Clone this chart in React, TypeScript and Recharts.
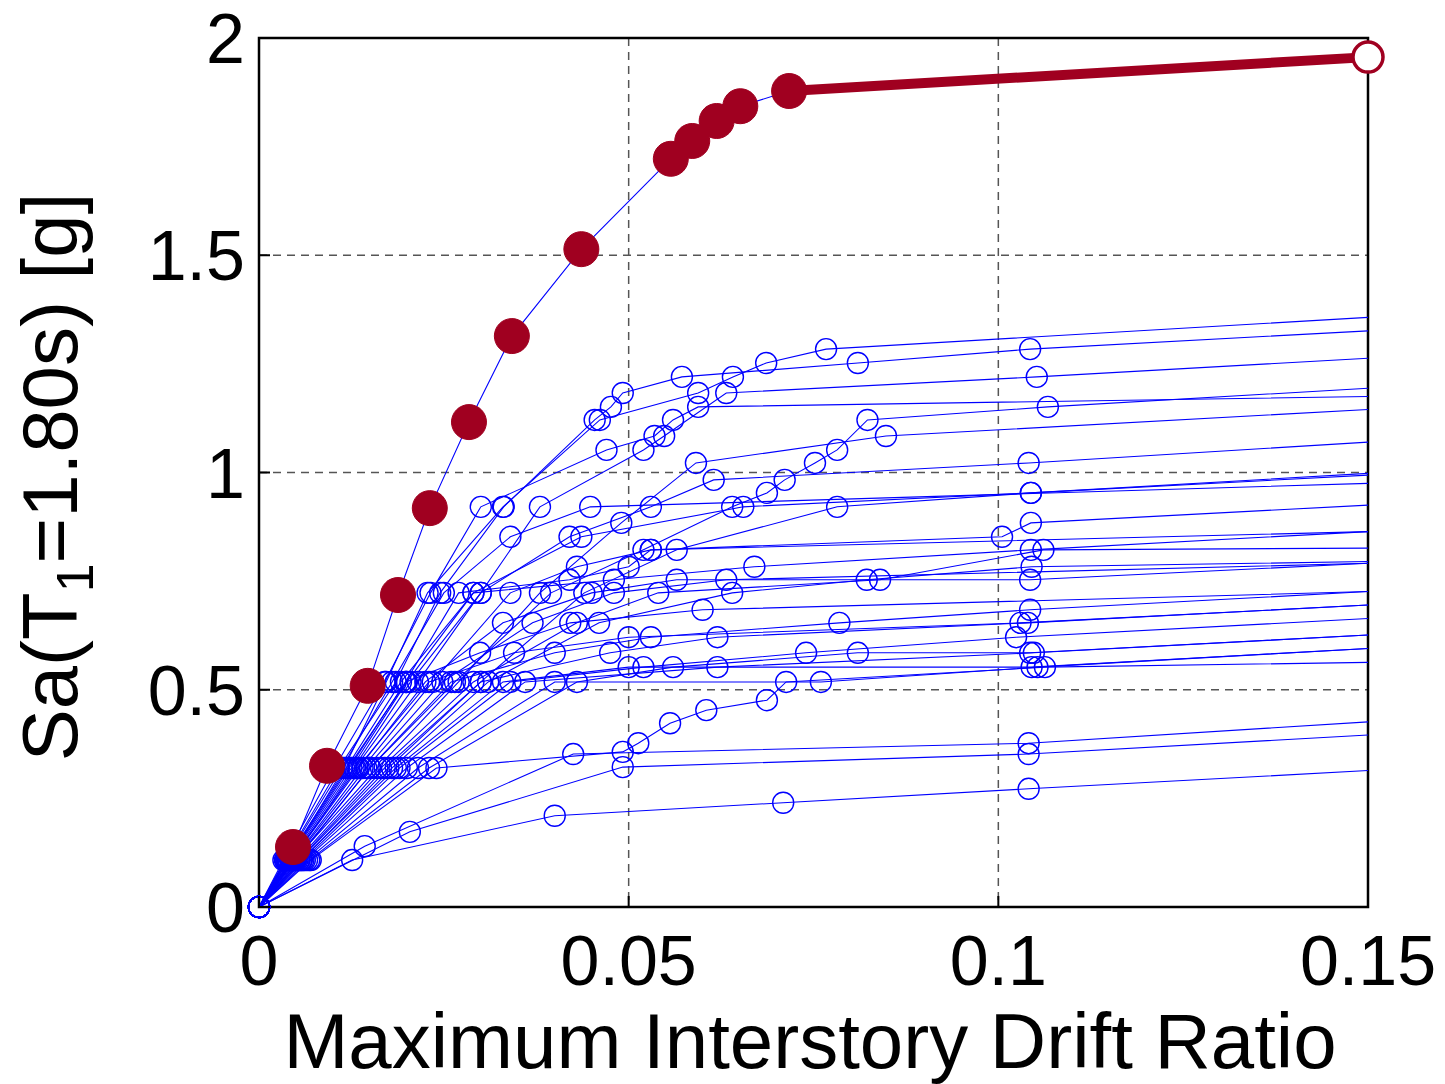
import React from 'react';
import { ScatterChart, Scatter, XAxis, YAxis, CartesianGrid, ReferenceArea, Label } from 'recharts';

const xTicks = [0, 0.05, 0.1, 0.15];
const xTickLabels = ['0', '0.05', '0.1', '0.15'];
const yTicks = [0, 0.5, 1, 1.5, 2];
const yTickLabels = ['0', '0.5', '1', '1.5', '2'];

// highlighted record (red markers), then its collapse segment
const redDrift = [0, 0.0046, 0.0092, 0.0147, 0.0188, 0.0231, 0.0284, 0.0342, 0.0436, 0.0557, 0.0586, 0.0619, 0.0651, 0.0717];
const redSa = [0, 0.138, 0.325, 0.509, 0.718, 0.918, 1.116, 1.314, 1.514, 1.722, 1.763, 1.809, 1.843, 1.878];
const collapseDrift = [0.0717, 0.15];
const collapseSa = [1.878, 1.956];

// other IDA curves: [drift, Sa]
const rec01 = [[0, 0], [0.004, 0.108], [0.0115, 0.32], [0.0172, 0.518], [0.0228, 0.723], [0.033, 0.921], [0.0461, 1.121], [0.0594, 1.183], [0.0641, 1.22], [0.0686, 1.252], [0.0767, 1.284], [0.15, 1.357]];
const rec02 = [[0, 0], [0.0035, 0.108], [0.0108, 0.32], [0.0185, 0.518], [0.0245, 0.723], [0.0331, 0.921], [0.0454, 1.121], [0.0476, 1.151], [0.0492, 1.183], [0.0572, 1.22], [0.081, 1.252], [0.1043, 1.284], [0.15, 1.326]];
const rec03 = [[0, 0], [0.0045, 0.108], [0.013, 0.32], [0.0215, 0.518], [0.03, 0.723], [0.038, 0.921], [0.052, 1.052], [0.0548, 1.084], [0.0632, 1.183], [0.1052, 1.22], [0.15, 1.263]];
const rec04 = [[0, 0], [0.005, 0.108], [0.015, 0.32], [0.0265, 0.518], [0.0395, 0.723], [0.052, 0.822], [0.064, 0.921], [0.0687, 0.953], [0.0711, 0.983], [0.0752, 1.022], [0.0782, 1.052], [0.0823, 1.121], [0.1067, 1.151], [0.15, 1.194]];
const rec05 = [[0, 0], [0.0033, 0.108], [0.0102, 0.32], [0.017, 0.518], [0.0232, 0.723], [0.03, 0.921], [0.047, 1.052], [0.0535, 1.084], [0.056, 1.121], [0.0594, 1.151], [0.15, 1.175]];
const rec06 = [[0, 0], [0.0048, 0.108], [0.016, 0.32], [0.027, 0.518], [0.038, 0.723], [0.049, 0.884], [0.0591, 1.022], [0.0848, 1.084], [0.15, 1.145]];
const rec07 = [[0, 0], [0.0042, 0.108], [0.0128, 0.32], [0.0205, 0.518], [0.03, 0.723], [0.042, 0.852], [0.053, 0.921], [0.0615, 0.983], [0.1041, 1.022], [0.15, 1.07]];
const rec08 = [[0, 0], [0.0037, 0.108], [0.0118, 0.32], [0.0192, 0.518], [0.029, 0.723], [0.0436, 0.852], [0.0655, 0.921], [0.1044, 0.953], [0.15, 0.998]];
const rec09 = [[0, 0], [0.0055, 0.108], [0.0175, 0.32], [0.03, 0.518], [0.044, 0.723], [0.0565, 0.822], [0.0782, 0.921], [0.1044, 0.953], [0.15, 0.994]];
const rec10 = [[0, 0], [0.0036, 0.108], [0.0112, 0.32], [0.018, 0.518], [0.025, 0.723], [0.034, 0.852], [0.0448, 0.921], [0.15, 0.975]];
const rec11 = [[0, 0], [0.0046, 0.108], [0.014, 0.32], [0.0235, 0.518], [0.034, 0.723], [0.043, 0.783], [0.053, 0.822], [0.1005, 0.852], [0.1044, 0.884], [0.15, 0.925]];
const rec12 = [[0, 0], [0.004, 0.108], [0.0125, 0.32], [0.02, 0.518], [0.029, 0.723], [0.048, 0.753], [0.067, 0.783], [0.1044, 0.822], [0.15, 0.864]];
const rec13 = [[0, 0], [0.0052, 0.108], [0.0165, 0.32], [0.029, 0.518], [0.043, 0.654], [0.054, 0.723], [0.084, 0.753], [0.1061, 0.822], [0.15, 0.826]];
const rec14 = [[0, 0], [0.0058, 0.108], [0.018, 0.32], [0.031, 0.518], [0.046, 0.654], [0.064, 0.723], [0.0822, 0.753], [0.1045, 0.783], [0.15, 0.795]];
const rec15 = [[0, 0], [0.0044, 0.108], [0.0135, 0.32], [0.0225, 0.518], [0.033, 0.654], [0.045, 0.723], [0.0565, 0.753], [0.1043, 0.753], [0.15, 0.791]];
const rec16 = [[0, 0], [0.0049, 0.108], [0.015, 0.32], [0.026, 0.518], [0.04, 0.585], [0.053, 0.621], [0.0785, 0.654], [0.1043, 0.684], [0.15, 0.726]];
const rec17 = [[0, 0], [0.0054, 0.108], [0.017, 0.32], [0.03, 0.518], [0.0475, 0.585], [0.062, 0.621], [0.104, 0.654], [0.15, 0.695]];
const rec18 = [[0, 0], [0.006, 0.108], [0.019, 0.32], [0.034, 0.518], [0.052, 0.552], [0.074, 0.585], [0.1024, 0.621], [0.15, 0.664]];
const rec19 = [[0, 0], [0.0062, 0.108], [0.02, 0.32], [0.036, 0.518], [0.062, 0.552], [0.1048, 0.585], [0.15, 0.626]];
const rec20 = [[0, 0], [0.0065, 0.108], [0.0215, 0.32], [0.04, 0.518], [0.076, 0.518], [0.1053, 0.552], [0.15, 0.595]];
const rec21 = [[0, 0], [0.007, 0.108], [0.024, 0.32], [0.0492, 0.357], [0.0513, 0.377], [0.0556, 0.423], [0.0605, 0.453], [0.0687, 0.476], [0.0713, 0.518], [0.1063, 0.552], [0.15, 0.563]];
const rec22 = [[0, 0], [0.0143, 0.14], [0.0425, 0.352], [0.1041, 0.377], [0.15, 0.426]];
const rec23 = [[0, 0], [0.0204, 0.173], [0.0492, 0.322], [0.1041, 0.352], [0.15, 0.396]];
const rec24 = [[0, 0], [0.0126, 0.108], [0.04, 0.21], [0.0709, 0.24], [0.1041, 0.272], [0.15, 0.314]];
const rec25 = [[0, 0], [0.0038, 0.108], [0.012, 0.32], [0.0199, 0.518], [0.0299, 0.585], [0.0421, 0.654], [0.06, 0.684], [0.15, 0.726]];
const rec26 = [[0, 0], [0.0043, 0.108], [0.0133, 0.32], [0.023, 0.518], [0.0345, 0.585], [0.05, 0.621], [0.103, 0.654], [0.15, 0.695]];
const rec27 = [[0, 0], [0.0057, 0.108], [0.0185, 0.32], [0.033, 0.518], [0.05, 0.552], [0.1045, 0.552], [0.15, 0.595]];
const rec28 = [[0, 0], [0.0039, 0.108], [0.0122, 0.32], [0.0198, 0.518], [0.027, 0.723], [0.042, 0.753], [0.05, 0.783], [0.053, 0.822], [0.15, 0.864]];
const rec29 = [[0, 0], [0.0047, 0.108], [0.0145, 0.32], [0.0248, 0.518], [0.037, 0.654], [0.048, 0.723], [0.0632, 0.753], [0.15, 0.791]];
const rec30 = [[0, 0], [0.0068, 0.108], [0.023, 0.32], [0.043, 0.518], [0.056, 0.552], [0.081, 0.585], [0.1043, 0.585], [0.15, 0.626]];

const blueRecords = [rec01, rec02, rec03, rec04, rec05, rec06, rec07, rec08, rec09, rec10, rec11, rec12, rec13, rec14, rec15,
  rec16, rec17, rec18, rec19, rec20, rec21, rec22, rec23, rec24, rec25, rec26, rec27, rec28, rec29, rec30];

const FONT = '"Liberation Sans", Arial, Helvetica, sans-serif';
const BLUE = '#0000ff';
const RED = '#a00020';

const toPts = (r: number[][]) => r.map(([x, y]) => ({ x, y }));
const redData = redDrift.map((x, i) => ({ x, y: redSa[i] }));
const collapseData = collapseDrift.map((x, i) => ({ x, y: collapseSa[i] }));

const blueDot = (p: any) => {
  if (p.payload && p.payload.x >= 0.15) return <g />;
  return <circle cx={p.cx} cy={p.cy} r={10.5} fill="none" stroke={BLUE} strokeWidth={1.4} />;
};

const redDot = (p: any) => {
  if (p.payload && p.payload.x === 0) {
    return <circle cx={p.cx} cy={p.cy} r={10.5} fill="none" stroke={BLUE} strokeWidth={1.4} />;
  }
  return <circle cx={p.cx} cy={p.cy} r={17.5} fill={RED} stroke={RED} strokeWidth={1} />;
};

const collapseDot = (p: any) => {
  if (p.payload && p.payload.x < 0.15) return <g />;
  return <circle cx={p.cx} cy={p.cy} r={15} fill="#fff" stroke={RED} strokeWidth={3.5} />;
};

const XTick = (props: any) => {
  const { x, y, payload } = props;
  const i = xTicks.indexOf(payload.value);
  return (
    <g>
      <line x1={x} y1={y} x2={x} y2={y - 11} stroke="#000" strokeWidth={2} />
      <text x={x} y={y + 78} textAnchor="middle" fontSize={70} fontFamily={FONT} fill="#000">
        {i >= 0 ? xTickLabels[i] : payload.value}
      </text>
    </g>
  );
};

const YTick = (props: any) => {
  const { x, y, payload } = props;
  const i = yTicks.indexOf(payload.value);
  return (
    <g>
      <line x1={x} y1={y} x2={x + 11} y2={y} stroke="#000" strokeWidth={2} />
      <text x={x - 14} y={y + 25} textAnchor="end" fontSize={70} fontFamily={FONT} fill="#000">
        {i >= 0 ? yTickLabels[i] : payload.value}
      </text>
    </g>
  );
};

export default function App() {
  return (
    <div style={{ width: 1437, height: 1076 }}>
      <ScatterChart width={1437} height={1076} margin={{ top: 30, right: 77, bottom: 0, left: 0 }}>
        <CartesianGrid stroke="#555" strokeDasharray="8 6" strokeWidth={1.5} />
        <XAxis type="number" dataKey="x" domain={[0, 0.15]} ticks={xTicks} interval={0} height={177}
          tick={<XTick />} tickLine={false} axisLine={false} tickSize={0} tickMargin={0}>
          <Label content={() => (
            <text x={802} y={1060} textAnchor="middle" fontSize={78} fontFamily={FONT} fill="#000">
              Maximum Interstory Drift Ratio
            </text>
          )} />
        </XAxis>
        <YAxis type="number" dataKey="y" domain={[0, 2]} ticks={yTicks} interval={0} width={251}
          tick={<YTick />} tickLine={false} axisLine={false} tickSize={0} tickMargin={0}>
          <Label content={() => (
            <text transform="translate(69,469) rotate(-90)" textAnchor="middle" fontSize={78} fontFamily={FONT} fill="#000">
              Sa(T<tspan fontSize={52} dy={16}>1</tspan><tspan dy={-16}>=1.80s) [g]</tspan>
            </text>
          )} />
        </YAxis>
        {blueRecords.map((r, i) => (
          <Scatter key={i} data={toPts(r)} line={{ stroke: BLUE, strokeWidth: 1.1 }} shape={blueDot} isAnimationActive={false} />
        ))}
        <Scatter data={collapseData} line={{ stroke: RED, strokeWidth: 10 }} shape={collapseDot} isAnimationActive={false} />
        <Scatter data={redData} line={{ stroke: BLUE, strokeWidth: 1.1 }} shape={redDot} isAnimationActive={false} />
        <ReferenceArea x1={0} x2={0.15} y1={0} y2={2} fill="none" stroke="#000" strokeWidth={2.5} fillOpacity={0} />
      </ScatterChart>
    </div>
  );
}
